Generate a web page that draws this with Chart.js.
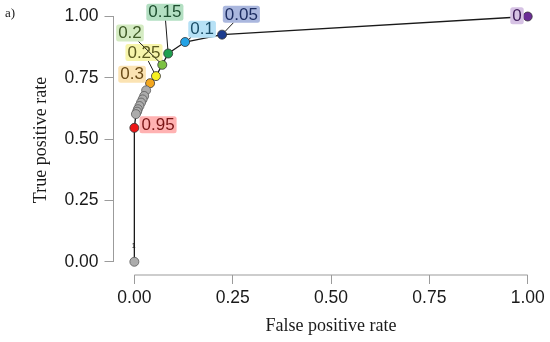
<!DOCTYPE html>
<html>
<head>
<meta charset="utf-8">
<script src="https://cdn.jsdelivr.net/npm/chart.js@4/dist/chart.umd.min.js"></script>
<style>
html,body{margin:0;padding:0;background:#fff;}
#wrap{width:550px;height:342px;}
</style>
</head>
<body>
<div id="wrap"><canvas id="c" width="550" height="342"></canvas></div>
<script>
// ---- data ----
const thresholds = ['0','0.05','0.1','0.15','0.2','0.25','0.3','','','','','','','','','0.95','1'];
const fpr = [1.000,0.223,0.129,0.086,0.071,0.055,0.040,0.030,0.025,0.021,0.017,0.013,0.009,0.007,0.004,0.000,0.000];
const tpr = [1.000,0.926,0.896,0.849,0.803,0.757,0.728,0.699,0.676,0.662,0.649,0.635,0.622,0.612,0.602,0.546,0.000];
const xTickValues = [0,0.25,0.5,0.75,1];
const yTickValues = [0,0.25,0.5,0.75,1];
const xTitle = 'False positive rate';
const yTitle = 'True positive rate';
const panelTag = 'a)';

// ---- styles (kept apart from the data) ----
const pointStyle = {
  '0':    {fill:'#6b2d96', box:'#d6c2e4', text:'#3e1b5a'},
  '0.05': {fill:'#1c3c8e', box:'#aab7de', text:'#1d2d62'},
  '0.1':  {fill:'#23a2e5', box:'#b6e1f6', text:'#1b4e68'},
  '0.15': {fill:'#1f9f4f', box:'#b3dfc2', text:'#1f4f30'},
  '0.2':  {fill:'#7cc142', box:'#d4ebc2', text:'#3f5a27'},
  '0.25': {fill:'#f5f020', box:'#f7f5ab', text:'#5b5a1f'},
  '0.3':  {fill:'#f4a71e', box:'#fbe3b3', text:'#6b4c19'},
  '0.95': {fill:'#ee1717', box:'#ffb2b2', text:'#7a1616'},
};
const grayFill = '#acacac';
// label centre offsets in px relative to each point
const labelOffset = {
  '0':[-10.7,-0.7], '0.05':[19.3,-20.3], '0.1':[17,-12.7], '0.15':[-3.3,-41.3],
  '0.2':[-32.3,-31.7], '0.25':[-12,-23.5], '0.3':[-18,-9], '0.95':[23.7,-3]
};

const pts = fpr.map((v,i)=>({x:v, y:tpr[i]}));
const fills = thresholds.map(t => pointStyle[t] ? pointStyle[t].fill : grayFill);
const borders = thresholds.map(t => pointStyle[t] ? '#333333' : '#5a5a5a');

const AXIS = '#9b9b9b';
const sansFont = '"Liberation Sans", Arial, Helvetica, sans-serif';
const serifFont = '"Liberation Serif", "Times New Roman", serif';

const annot = {
  id:'annot',
  beforeDatasetsDraw(chart){
    const {ctx, scales:{x,y}} = chart;
    ctx.save();
    ctx.strokeStyle = AXIS; ctx.lineWidth = 1;
    ctx.beginPath();
    const yb = chart.chartArea.bottom, xl = chart.chartArea.left;
    ctx.moveTo(x.getPixelForValue(xTickValues[0]), yb);
    ctx.lineTo(x.getPixelForValue(xTickValues[xTickValues.length-1]), yb);
    ctx.moveTo(xl, y.getPixelForValue(yTickValues[0]));
    ctx.lineTo(xl, y.getPixelForValue(yTickValues[yTickValues.length-1]));
    ctx.stroke();
    ctx.restore();
  },
  afterDatasetsDraw(chart){
    const {ctx, scales:{x,y}} = chart;
    ctx.save();
    ctx.font = '17px ' + sansFont;
    ctx.textAlign = 'center'; ctx.textBaseline = 'middle';
    const items = [];
    thresholds.forEach((t,i)=>{
      const st = pointStyle[t]; const off = labelOffset[t];
      if(!st || !off) return;
      const px = x.getPixelForValue(fpr[i]), py = y.getPixelForValue(tpr[i]);
      const cx = px + off[0], cy = py + off[1];
      const tw = ctx.measureText(t).width;
      items.push({t, st, px, py, cx, cy, w: tw + 4, h: 17});
    });
    // boxes
    items.forEach(it=>{
      ctx.fillStyle = it.st.box;
      ctx.beginPath();
      ctx.roundRect(it.cx - it.w/2, it.cy - it.h/2, it.w, it.h, 2.5);
      ctx.fill();
    });
    // leader segments from box edge to point edge
    items.forEach(it=>{
      const {px,py,cx,cy,w,h} = it;
      const dx = px - cx, dy = py - cy;
      const sx = dx !== 0 ? (w/2)/Math.abs(dx) : Infinity;
      const sy = dy !== 0 ? (h/2)/Math.abs(dy) : Infinity;
      const s = Math.min(sx, sy);
      if (s < 1){
        const ex = cx + dx*s, ey = cy + dy*s;
        const d = Math.hypot(px-ex, py-ey);
        if (d > 6){
          const r = 4.5/d;
          ctx.strokeStyle = '#1a1a1a'; ctx.lineWidth = 1;
          ctx.beginPath(); ctx.moveTo(ex,ey); ctx.lineTo(px-(px-ex)*r, py-(py-ey)*r); ctx.stroke();
        }
      }
    });
    // texts
    items.forEach(it=>{
      ctx.fillStyle = it.st.text;
      ctx.fillText(it.t, it.cx, it.cy + 0.5);
    });
    // tiny label of the threshold "1" point at (0,0)
    const i1 = thresholds.indexOf('1');
    if (i1 >= 0){
      ctx.font = '7px ' + sansFont; ctx.fillStyle = '#222';
      ctx.fillText('1', x.getPixelForValue(fpr[i1]) - 0.7, y.getPixelForValue(tpr[i1]) - 15.5);
    }
    // axis titles and panel tag
    ctx.fillStyle = '#1a1a1a';
    ctx.font = '18px ' + serifFont;
    ctx.fillText(xTitle, 331, 326);
    ctx.save();
    ctx.translate(41.5, 140); ctx.rotate(-Math.PI/2);
    ctx.fillText(yTitle, 0, 0);
    ctx.restore();
    ctx.font = '13px ' + serifFont; ctx.textAlign = 'left';
    ctx.fillText(panelTag, 5, 14);
    ctx.restore();
  }
};

new Chart(document.getElementById('c'), {
  type:'scatter',
  data:{ datasets:[{
    data: pts,
    showLine:true,
    borderColor:'#1a1a1a',
    borderWidth:1.3,
    tension:0,
    pointRadius:4.5,
    pointHoverRadius:4.5,
    pointBackgroundColor: fills,
    pointBorderColor: borders,
    pointBorderWidth:0.8,
    clip:false
  }]},
  options:{
    responsive:false,
    animation:false,
    events:[],
    layout:{ padding:{left:0, top:15.3, right:22.3, bottom:0} },
    plugins:{ legend:{display:false}, tooltip:{enabled:false} },
    scales:{
      x:{
        type:'linear', min:-0.053, max:1.0,
        afterBuildTicks:(s)=>{ s.ticks = xTickValues.map(v=>({value:v})); },
        afterFit:(s)=>{ s.height = 67; },
        border:{display:false},
        grid:{display:true, drawOnChartArea:false, drawTicks:true, tickLength:9, color:AXIS, lineWidth:1},
        ticks:{ padding:4, color:'#1a1a1a', font:{family:sansFont, size:17.5}, maxRotation:0, autoSkip:false,
          callback:(v)=>Number(v).toFixed(2) }
      },
      y:{
        type:'linear', min:-0.054, max:1.0,
        afterBuildTicks:(s)=>{ s.ticks = yTickValues.map(v=>({value:v})); },
        afterFit:(s)=>{ s.width = 113.5; },
        border:{display:false},
        grid:{display:true, drawOnChartArea:false, drawTicks:true, tickLength:9, color:AXIS, lineWidth:1},
        ticks:{ padding:6, color:'#1a1a1a', font:{family:sansFont, size:17.5}, autoSkip:false,
          callback:(v)=>Number(v).toFixed(2) }
      }
    }
  },
  plugins:[annot]
});
</script>
</body>
</html>
